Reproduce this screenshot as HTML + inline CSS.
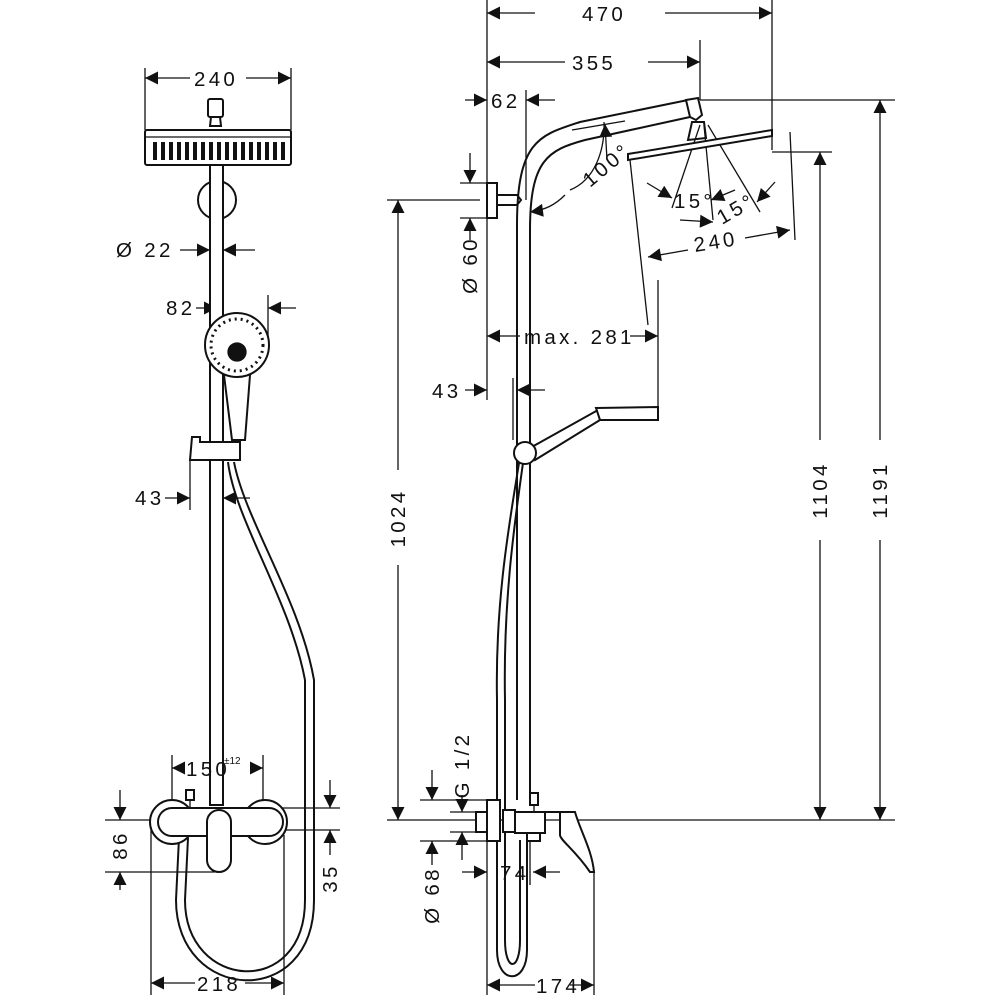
<!DOCTYPE html>
<html><head><style>html,body{margin:0;padding:0;background:#fff}svg{display:block}</style></head><body>
<svg width="1000" height="1000" viewBox="0 0 1000 1000" xmlns="http://www.w3.org/2000/svg" font-family="Liberation Sans, sans-serif" font-size="20.5" letter-spacing="3.3">
<defs>
<marker id="a" viewBox="0 0 10 10" refX="10" refY="5" markerWidth="15" markerHeight="13" markerUnits="userSpaceOnUse" orient="auto"><path d="M0,0 L10,5 L0,10z" fill="#111"/></marker>
</defs>
<g stroke="#111" stroke-width="1.3" fill="none">
<line x1="145" y1="68" x2="145" y2="130"/><line x1="291" y1="68" x2="291" y2="130"/>
<line x1="190" y1="78" x2="145" y2="78" marker-end="url(#a)"/><line x1="246" y1="78" x2="291" y2="78" marker-end="url(#a)"/>
<line x1="180" y1="250" x2="210" y2="250" marker-end="url(#a)"/><line x1="255" y1="250" x2="223" y2="250" marker-end="url(#a)"/>
<line x1="196" y1="308" x2="217" y2="308" marker-end="url(#a)"/><line x1="296" y1="308" x2="268" y2="308" marker-end="url(#a)"/>
<line x1="217" y1="295" x2="217" y2="330"/><line x1="268" y1="295" x2="268" y2="340"/>
<line x1="165" y1="498" x2="190" y2="498" marker-end="url(#a)"/><line x1="250" y1="498" x2="223" y2="498" marker-end="url(#a)"/>
<line x1="190" y1="460" x2="190" y2="510"/>
<line x1="172" y1="755" x2="172" y2="810"/><line x1="263" y1="755" x2="263" y2="810"/>
<line x1="185" y1="768" x2="172" y2="768" marker-end="url(#a)"/><line x1="250" y1="768" x2="263" y2="768" marker-end="url(#a)"/>
<line x1="105" y1="820" x2="150" y2="820"/><line x1="105" y1="872" x2="215" y2="872"/>
<line x1="120" y1="790" x2="120" y2="820" marker-end="url(#a)"/><line x1="120" y1="890" x2="120" y2="872" marker-end="url(#a)"/>
<line x1="265" y1="808" x2="340" y2="808"/><line x1="265" y1="830" x2="340" y2="830"/>
<line x1="330" y1="780" x2="330" y2="808" marker-end="url(#a)"/><line x1="330" y1="855" x2="330" y2="830" marker-end="url(#a)"/>
<line x1="151" y1="830" x2="151" y2="995"/><line x1="284" y1="835" x2="284" y2="995"/>
<line x1="195" y1="983" x2="151" y2="983" marker-end="url(#a)"/><line x1="245" y1="983" x2="284" y2="983" marker-end="url(#a)"/>
<rect x="145" y="130" width="146" height="35" rx="2" stroke-width="2"/>
<line x1="145" y1="137" x2="291" y2="137"/>
<g stroke-width="4">
<path d="M155 142v18M163 142v18M171 142v18M179 142v18M187 142v18M195 142v18M203 142v18M211 142v18M219 142v18M227 142v18M235 142v18M243 142v18M251 142v18M259 142v18M267 142v18M275 142v18M283 142v18"/>
</g>
<rect x="208" y="99" width="15" height="18" rx="2" stroke-width="2"/>
<path d="M211 117 L210 126 L221 126 L220 117" stroke-width="2"/>
<circle cx="217" cy="200" r="19" stroke-width="2"/>
<rect x="210" y="165" width="13" height="640" fill="#fff" stroke-width="2"/>
<path d="M224 375 L232 440 L245 440 L250 375" stroke-width="2" fill="#fff"/>
<circle cx="237" cy="345" r="32" fill="#fff" stroke-width="2"/>
<circle cx="237" cy="345" r="26" stroke-width="3" stroke-dasharray="2 4"/>
<circle cx="237" cy="352" r="9" fill="#111"/>
<path d="M192 437 h8 v5 h40 v18 h-50z" stroke-width="2" fill="#fff"/>
<path d="M228 462 C235 520 290 600 305 680 L305 900 C305 1000 185 990 185 900 L188 838" stroke-width="2"/>
<path d="M234 462 C245 520 300 600 314 680 L314 900 C314 1012 176 1002 176 900 L179 838" stroke-width="2"/>
<circle cx="172" cy="822" r="22" fill="#fff" stroke-width="2"/>
<circle cx="265" cy="822" r="22" fill="#fff" stroke-width="2"/>
<rect x="158" y="808" width="125" height="28" rx="14" fill="#fff" stroke-width="2"/>
<rect x="186" y="790" width="8" height="10" stroke-width="2"/>
<path d="M190 800 v8"/>
<rect x="207" y="810" width="24" height="62" rx="12" fill="#fff" stroke-width="2"/>
<line x1="487" y1="0" x2="487" y2="400"/><line x1="772" y1="0" x2="772" y2="150"/><line x1="700" y1="40" x2="700" y2="100"/>
<line x1="535" y1="13" x2="487" y2="13" marker-end="url(#a)"/><line x1="665" y1="13" x2="772" y2="13" marker-end="url(#a)"/>
<line x1="565" y1="62" x2="487" y2="62" marker-end="url(#a)"/><line x1="648" y1="62" x2="700" y2="62" marker-end="url(#a)"/>
<line x1="465" y1="100" x2="487" y2="100" marker-end="url(#a)"/><line x1="555" y1="100" x2="526" y2="100" marker-end="url(#a)"/>
<line x1="526" y1="90" x2="526" y2="200"/>
<line x1="700" y1="100" x2="895" y2="100"/><line x1="772" y1="152" x2="832" y2="152"/>
<line x1="387" y1="200" x2="480" y2="200"/><line x1="387" y1="820" x2="895" y2="820"/>
<line x1="470" y1="153" x2="470" y2="183" marker-end="url(#a)"/><line x1="470" y1="240" x2="470" y2="218" marker-end="url(#a)"/>
<line x1="460" y1="183" x2="487" y2="183"/><line x1="460" y1="218" x2="487" y2="218"/>
<line x1="398" y1="470" x2="398" y2="200" marker-end="url(#a)"/><line x1="398" y1="565" x2="398" y2="820" marker-end="url(#a)"/>
<line x1="820" y1="440" x2="820" y2="152" marker-end="url(#a)"/><line x1="820" y1="540" x2="820" y2="820" marker-end="url(#a)"/>
<line x1="880" y1="440" x2="880" y2="100" marker-end="url(#a)"/><line x1="880" y1="540" x2="880" y2="820" marker-end="url(#a)"/>
<line x1="520" y1="336" x2="487" y2="336" marker-end="url(#a)"/><line x1="630" y1="336" x2="658" y2="336" marker-end="url(#a)"/>
<line x1="658" y1="280" x2="658" y2="410"/>
<line x1="465" y1="390" x2="487" y2="390" marker-end="url(#a)"/><line x1="545" y1="390" x2="517" y2="390" marker-end="url(#a)"/>
<line x1="513" y1="378" x2="513" y2="440"/>
<path d="M604 122 C605 150 595 180 570 190" /><line x1="607" y1="160" x2="605" y2="124" marker-end="url(#a)"/>
<path d="M565 195 C555 205 545 210 530 212" marker-end="url(#a)"/>
<line x1="630" y1="160" x2="648" y2="325"/><line x1="790" y1="132" x2="795" y2="240"/>
<line x1="700" y1="125" x2="672" y2="208"/><line x1="704" y1="125" x2="713" y2="220"/><line x1="708" y1="125" x2="760" y2="212"/>
<line x1="647" y1="183" x2="672" y2="198" marker-end="url(#a)"/><line x1="735" y1="190" x2="711" y2="200" marker-end="url(#a)"/>
<line x1="680" y1="220" x2="713" y2="222" marker-end="url(#a)"/><line x1="775" y1="182" x2="757" y2="202" marker-end="url(#a)"/>
<line x1="688" y1="250" x2="648" y2="257" marker-end="url(#a)"/><line x1="745" y1="238" x2="790" y2="230" marker-end="url(#a)"/>
<path d="M517 800 L517 225 C517 140 540 135 580 122 L688 100" stroke-width="2"/>
<path d="M530 800 L530 230 C530 160 548 150 585 140 L690 117" stroke-width="2"/>
<line x1="572" y1="130" x2="625" y2="121"/>
<path d="M686 100 L698 98 L702 115 L696 120 L690 117z" stroke-width="2" fill="#fff"/>
<path d="M692 122 L704 122 L706 138 L688 140z" stroke-width="2"/>
<path d="M628 154 L772 130 L772 136 L628 160z" stroke-width="2" fill="#fff"/>
<rect x="487" y="183" width="10" height="35" stroke-width="2"/>
<path d="M497 195 h20 l4 5 l-4 5 h-20" stroke-width="2"/>
<path d="M530 448 L598 410 L600 420 L535 460z" stroke-width="2" fill="#fff"/>
<path d="M596 408 L658 407 L658 420 L600 420z" stroke-width="2" fill="#fff"/>
<circle cx="525" cy="453" r="11" fill="#fff" stroke-width="2"/>
<path d="M519 463 C510 520 495 600 497 700 L497 950 C497 985 527 985 527 950 L527 840" stroke-width="2"/>
<path d="M523 463 C515 520 503 600 505 700 L505 940 C505 972 520 972 520 940 L520 840" stroke-width="2"/>
<line x1="487" y1="840" x2="487" y2="995"/><line x1="594" y1="870" x2="594" y2="995"/>
<line x1="535" y1="985" x2="487" y2="985" marker-end="url(#a)"/><line x1="570" y1="985" x2="594" y2="985" marker-end="url(#a)"/>
<line x1="462" y1="872" x2="487" y2="872" marker-end="url(#a)"/><line x1="560" y1="872" x2="533" y2="872" marker-end="url(#a)"/>
<line x1="530" y1="840" x2="530" y2="885"/>
<line x1="420" y1="800" x2="487" y2="800"/><line x1="420" y1="841" x2="487" y2="841"/>
<line x1="450" y1="812" x2="476" y2="812"/><line x1="450" y1="832" x2="476" y2="832"/>
<line x1="432" y1="770" x2="432" y2="800" marker-end="url(#a)"/><line x1="432" y1="865" x2="432" y2="841" marker-end="url(#a)"/>
<line x1="462" y1="795" x2="462" y2="812" marker-end="url(#a)"/><line x1="462" y1="860" x2="462" y2="832" marker-end="url(#a)"/>
<rect x="487" y="800" width="13" height="41" fill="#fff" stroke-width="2"/>
<rect x="476" y="812" width="11" height="20" fill="#fff" stroke-width="2"/>
<rect x="503" y="810" width="12" height="22" fill="#fff" stroke-width="2"/>
<rect x="515" y="812" width="30" height="21" fill="#fff" stroke-width="2"/>
<rect x="530" y="793" width="8" height="12" stroke-width="2"/><line x1="534" y1="805" x2="534" y2="812"/>
<rect x="527" y="833" width="13" height="8" stroke-width="2"/>
<path d="M545 812 H570 M560 812 L575 812 C580 830 592 850 594 872 L590 872 C575 850 560 840 560 835 V812" stroke-width="2" fill="#fff"/>
</g>
<g fill="#111" stroke="none">
<text x="194" y="86">240</text>
<text x="116" y="257">Ø 22</text>
<text x="166" y="315">82</text>
<text x="135" y="505">43</text>
<text x="186" y="776">150</text><text x="224" y="764" font-size="10" letter-spacing="0">±12</text>
<text x="197" y="991">218</text>
<text transform="translate(127,845) rotate(-90)" text-anchor="middle">86</text>
<text transform="translate(337,878) rotate(-90)" text-anchor="middle">35</text>
<text x="582" y="21">470</text>
<text x="572" y="70">355</text>
<text x="491" y="108">62</text>
<text transform="translate(590,188) rotate(-40)">100°</text>
<text x="674" y="208">15°</text>
<text transform="translate(722,225) rotate(-30)">15°</text>
<text transform="translate(695,252) rotate(-9)">240</text>
<text x="524" y="344">max. 281</text>
<text x="432" y="398">43</text>
<text transform="translate(477,265) rotate(-90)" text-anchor="middle">Ø 60</text>
<text transform="translate(405,518) rotate(-90)" text-anchor="middle">1024</text>
<text transform="translate(827,490) rotate(-90)" text-anchor="middle">1104</text>
<text transform="translate(887,490) rotate(-90)" text-anchor="middle">1191</text>
<text transform="translate(469,765) rotate(-90)" text-anchor="middle">G 1/2</text>
<text transform="translate(439,895) rotate(-90)" text-anchor="middle">Ø 68</text>
<text x="500" y="880">74</text>
<text x="536" y="993">174</text>
</g>
</svg>
</body></html>
